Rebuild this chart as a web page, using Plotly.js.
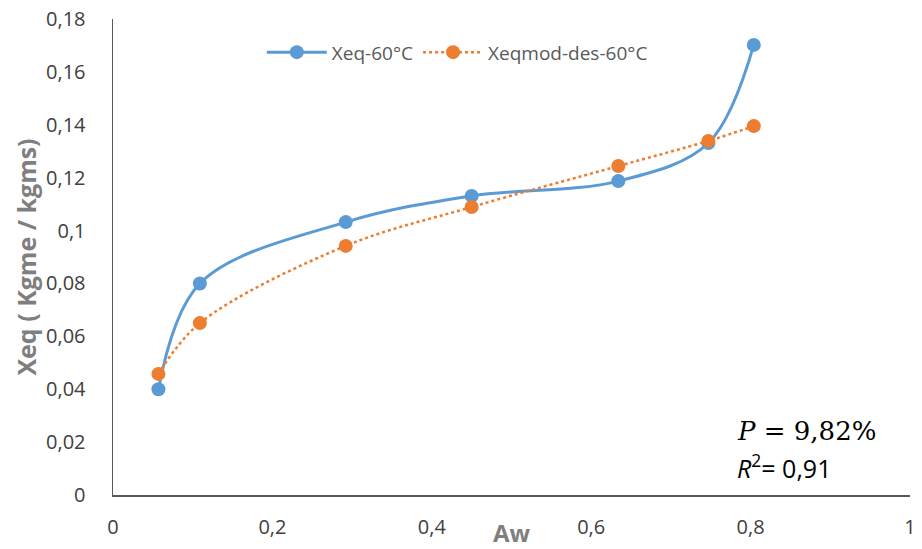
<!DOCTYPE html>
<html>
<head>
<meta charset="utf-8">
<script src="https://cdn.plot.ly/plotly-3.0.1.min.js"></script>
<style>html,body{margin:0;padding:0;background:#fff;}#chart{width:922px;height:549px;}</style>
</head>
<body>
<div id="chart"></div>
<script>
const aw = [0.057, 0.109, 0.292, 0.450, 0.634, 0.747, 0.804];
const xeq = [0.040, 0.080, 0.1032, 0.1131, 0.1187, 0.1331, 0.1702];
const xeqMod = [0.0458, 0.0650, 0.0942, 0.1089, 0.1244, 0.1339, 0.1395];
const seriesNames = ['Xeq-60°C', 'Xeqmod-des-60°C'];
const yTicks = [0, 0.02, 0.04, 0.06, 0.08, 0.1, 0.12, 0.14, 0.16, 0.18];
const yTickText = ['0', '0,02', '0,04', '0,06', '0,08', '0,1', '0,12', '0,14', '0,16', '0,18'];
const xTicks = [0, 0.2, 0.4, 0.6, 0.8, 1];
const xTickText = ['0', '0,2', '0,4', '0,6', '0,8', '1'];

const traces = [
  {x: aw, y: xeq, name: seriesNames[0], mode: 'lines+markers', type: 'scatter',
   line: {color: '#5B9BD5', width: 3, shape: 'spline', smoothing: 1},
   marker: {color: '#5B9BD5', size: 14}},
  {x: aw, y: xeqMod, name: seriesNames[1], mode: 'lines+markers', type: 'scatter',
   line: {color: '#ED7D31', width: 2.5, dash: 'dot', shape: 'spline', smoothing: 1},
   marker: {color: '#ED7D31', size: 14}}
];

const layout = {
  width: 922, height: 549,
  margin: {l: 113, r: 12, t: 19, b: 54},
  paper_bgcolor: '#fff', plot_bgcolor: '#fff',
  font: {family: 'Open Sans, sans-serif', color: '#404040'},
  showlegend: true,
  legend: {orientation: 'h', x: 0.432, xanchor: 'center', y: 0.93, yanchor: 'middle',
           font: {size: 19, color: '#595959'}, bgcolor: 'rgba(0,0,0,0)', itemwidth: 60},
  xaxis: {range: [0, 1], tickvals: xTicks, ticktext: xTickText, showgrid: false, zeroline: false,
          showline: true, linecolor: '#595959', linewidth: 1.5, ticks: '', ticklabelstandoff: 13,
          tickfont: {size: 20, color: '#404040'},
          title: {text: 'Aw', font: {size: 24, color: '#7f7f7f', weight: 'bold'}, standoff: 0}},
  yaxis: {range: [0, 0.18], tickvals: yTicks, ticktext: yTickText, showgrid: false, zeroline: false,
          showline: true, linecolor: '#595959', linewidth: 1.5, ticks: '', ticklabelstandoff: 22,
          tickfont: {size: 20, color: '#404040'},
          title: {text: 'Xeq ( Kgme / kgms)', font: {size: 25, color: '#7f7f7f', weight: 'bold'}, standoff: 2}},
  annotations: [
    {xref: 'paper', yref: 'paper', x: 0.78, y: 0.135, xanchor: 'left', yanchor: 'middle', showarrow: false,
     text: '<i>P</i> = 9,82%', font: {family: 'DejaVu Serif, serif', size: 26, color: '#000'}},
    {xref: 'paper', yref: 'paper', x: 0.78, y: 0.06, xanchor: 'left', yanchor: 'middle', showarrow: false,
     text: '<i>R</i><sup>2</sup>= 0,91', font: {family: 'Open Sans, sans-serif', size: 25, color: '#000'}}
  ]
};
Plotly.newPlot('chart', traces, layout, {displayModeBar: false, staticPlot: true});
</script>
</body>
</html>
